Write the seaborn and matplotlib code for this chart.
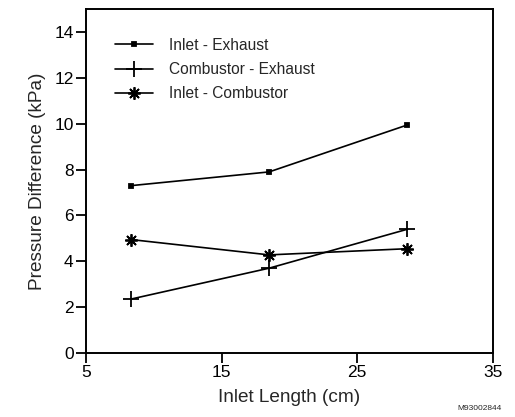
import matplotlib
matplotlib.use("Agg")
import matplotlib.pyplot as plt
import seaborn as sns
import pandas as pd

inlet_length = [8.3, 18.5, 28.7]
inlet_exhaust = [7.3, 7.9, 9.95]
combustor_exhaust = [2.35, 3.7, 5.4]
inlet_combustor = [4.95, 4.28, 4.55]
series_names = ["Inlet - Exhaust", "Combustor - Exhaust", "Inlet - Combustor"]
x_ticks = [5, 15, 25, 35]
y_ticks = [0, 2, 4, 6, 8, 10, 12, 14]

df = pd.DataFrame({
    "x": inlet_length * 3,
    "y": inlet_exhaust + combustor_exhaust + inlet_combustor,
    "series": [series_names[0]] * 3 + [series_names[1]] * 3 + [series_names[2]] * 3,
})

sns.set_style("ticks")
plt.rcParams["font.family"] = ["Liberation Sans", "DejaVu Sans"]

fig = plt.figure(figsize=(5.15, 4.17), dpi=100)
ax = fig.add_axes([0.167, 0.1535, 0.79, 0.8245])

markers = {series_names[0]: "s", series_names[1]: "+", series_names[2]: (8, 2, 0)}
sizes = {series_names[0]: 3, series_names[1]: 11, series_names[2]: 9}
for name in series_names:
    sub = df[df["series"] == name]
    sns.lineplot(data=sub, x="x", y="y", ax=ax, color="black", linewidth=1.2,
                 marker=markers[name], markersize=sizes[name], markeredgewidth=1.3,
                 markeredgecolor="black", markerfacecolor="black", label=name)

ax.set_xlim(5, 35)
ax.set_ylim(0, 15)
ax.set_xticks(x_ticks)
ax.set_yticks(y_ticks)
ax.tick_params(axis="both", direction="out", length=7, width=1.3, labelsize=12.5,
               colors="black", pad=2)
for s in ax.spines.values():
    s.set_linewidth(1.4)
    s.set_color("black")
ax.set_xlabel("Inlet Length (cm)", fontsize=13.7, labelpad=6)
ax.set_ylabel("Pressure Difference (kPa)", fontsize=13.7, labelpad=6)

leg = ax.legend(loc="upper left", frameon=False, fontsize=11.2, handlelength=2.5,
                handletextpad=1.0, labelspacing=0.6, borderaxespad=0.0,
                bbox_to_anchor=(0.055, 0.935))

fig.text(0.975, 0.012, "M93002844", fontsize=6, ha="right", va="bottom")

fig.savefig("out.png", dpi=100)
